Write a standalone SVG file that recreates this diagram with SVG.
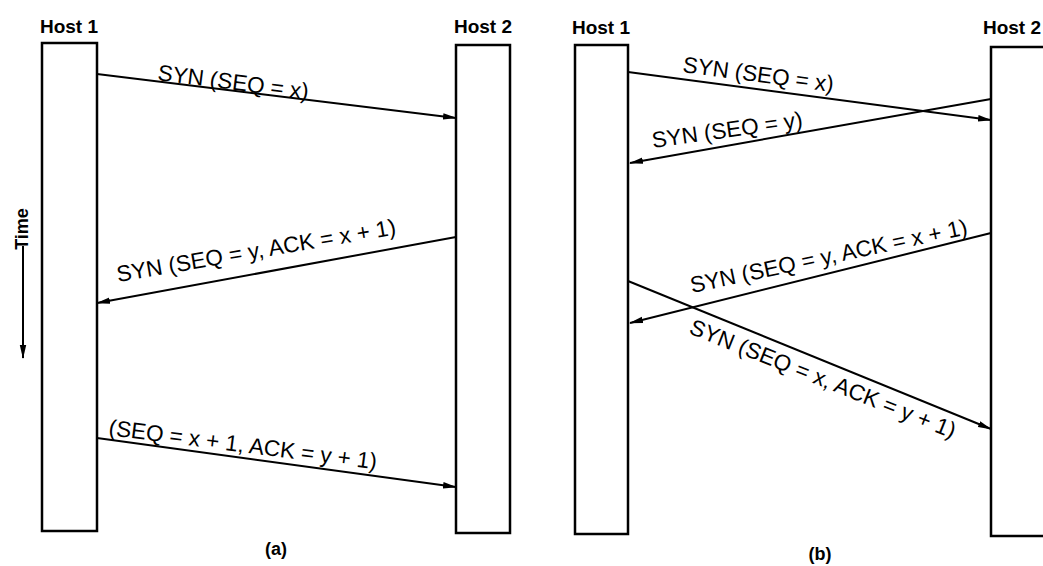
<svg xmlns="http://www.w3.org/2000/svg" width="1043" height="566" viewBox="0 0 1043 566">
<style>
.bar{fill:#fff;stroke:#000;stroke-width:2.5}
.host{font-family:"Liberation Sans",Arial,sans-serif;font-weight:bold;font-size:19px;fill:#000}
.msg{font-family:"Liberation Sans",Arial,sans-serif;font-size:22.5px;fill:#000}
.cap{font-family:"Liberation Sans",Arial,sans-serif;font-weight:bold;font-size:18px;fill:#000}
.ln{stroke:#000;stroke-width:2;fill:none;marker-end:url(#ah)}
</style>
<defs>
<marker id="ah" markerWidth="14" markerHeight="8" refX="13" refY="4" orient="auto" markerUnits="userSpaceOnUse">
<path d="M0,0.8 L14,4 L0,7.2 z" fill="#000"/>
</marker>
</defs>
<rect width="1043" height="566" fill="#fff"/>
<g id="a-host1">
<rect class="bar" x="42" y="43" width="55" height="488"/>
<text class="host" x="69" y="33" text-anchor="middle">Host 1</text>
</g>
<g id="a-host2">
<rect class="bar" x="456" y="45" width="54" height="488"/>
<text class="host" x="483" y="33" text-anchor="middle">Host 2</text>
</g>
<g id="time">
<text class="cap" transform="translate(28,229) rotate(-90)" text-anchor="middle" font-size="16">Time</text>
<line class="ln" x1="23" y1="246" x2="23" y2="358"/>
</g>
<text class="cap" x="276" y="555" text-anchor="middle">(a)</text>
<g id="b-host1">
<rect class="bar" x="575" y="45" width="53" height="489"/>
<text class="host" x="601" y="34" text-anchor="middle">Host 1</text>
</g>
<g id="b-host2">
<rect class="bar" x="991" y="47" width="60" height="489"/>
<text class="host" x="1041" y="34" text-anchor="end">Host 2</text>
</g>
<text class="cap" x="820" y="560" text-anchor="middle">(b)</text>
<g id="connectors">
<line class="ln" x1="97" y1="74" x2="456" y2="118"/>
<line class="ln" x1="456" y1="237" x2="97" y2="303"/>
<line class="ln" x1="97" y1="438" x2="456" y2="487"/>
<line class="ln" x1="628" y1="72" x2="991" y2="120"/>
<line class="ln" x1="991" y1="99" x2="630" y2="163"/>
<line class="ln" x1="991" y1="233" x2="630" y2="323"/>
<line class="ln" x1="628" y1="281" x2="991" y2="429"/>
</g>
<g id="labels">
<text class="msg" transform="translate(157,80) rotate(7.3)">SYN (SEQ = x)</text>
<text class="msg" transform="translate(118,282) rotate(-9.7)">SYN (SEQ = y, ACK = x + 1)</text>
<text class="msg" transform="translate(108,435) rotate(7.3)">(SEQ = x + 1, ACK = y + 1)</text>
<text class="msg" transform="translate(682,72) rotate(7.5)">SYN (SEQ = x)</text>
<text class="msg" transform="translate(653,148) rotate(-8)">SYN (SEQ = y)</text>
<text class="msg" transform="translate(692,293) rotate(-12)">SYN (SEQ = y, ACK = x + 1)</text>
<text class="msg" transform="translate(688,333) rotate(21.8)">SYN (SEQ = x, ACK = y + 1)</text>
</g>
</svg>
